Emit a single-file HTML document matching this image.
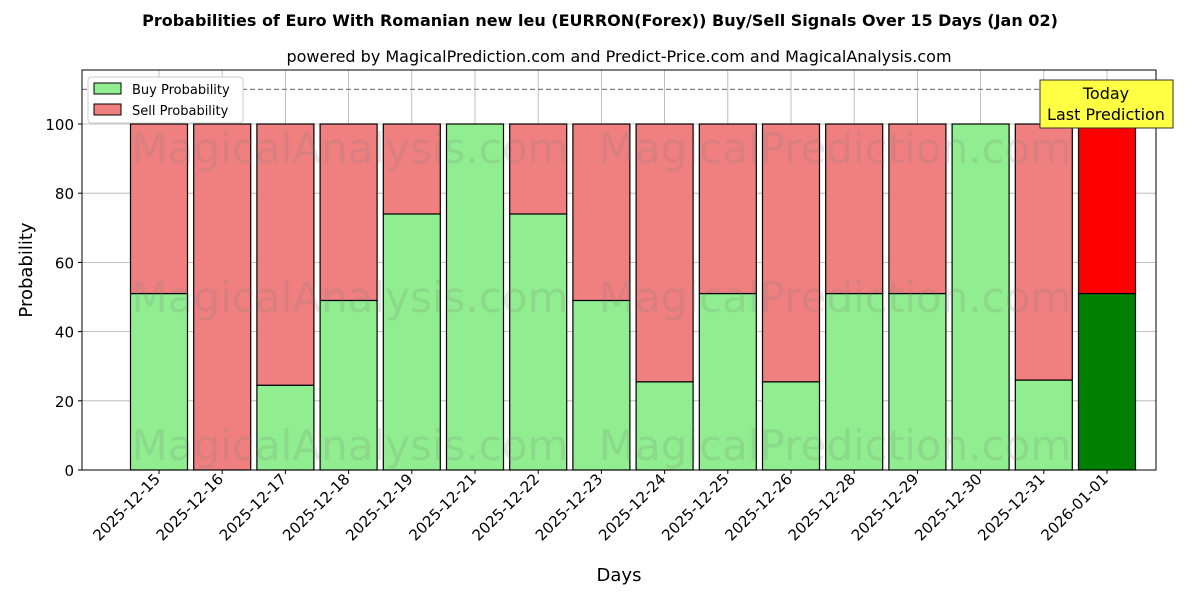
<!DOCTYPE html>
<html><head><meta charset="utf-8"><style>body{margin:0;background:#fff}svg{display:block;font-family:"DejaVu Sans","Liberation Sans",sans-serif}</style></head>
<body>
<svg id="c" width="1200" height="600">
<text x="600" y="26" text-anchor="middle" font-size="16" font-weight="bold">Probabilities of Euro With Romanian new leu (EURRON(Forex)) Buy/Sell Signals Over 15 Days (Jan 02)</text>
<text x="619" y="62" text-anchor="middle" font-size="16">powered by MagicalPrediction.com and Predict-Price.com and MagicalAnalysis.com</text>
<g id="plot"></g>
</svg>
<script>
const categories=["2025-12-15","2025-12-16","2025-12-17","2025-12-18","2025-12-19","2025-12-21","2025-12-22","2025-12-23","2025-12-24","2025-12-25","2025-12-26","2025-12-28","2025-12-29","2025-12-30","2025-12-31","2026-01-01"];
const buyValues=[51,0,24.5,49,74,100,74,49,25.5,51,25.5,51,51,100,26,51];
const yTicks=[0,20,40,60,80,100];
const NS="http://www.w3.org/2000/svg";
const L=82,R=1156,T=70,B=470;
const y=v=>B-v*3.46;
const x=i=>159+i*63.2;
const bw=57;
const g=document.getElementById('plot');
function mk(t,a,p){const e=document.createElementNS(NS,t);for(const k in a)e.setAttribute(k,a[k]);(p||g).appendChild(e);return e;}
yTicks.forEach(v=>{const l=mk('line',{x1:L,x2:R,y1:y(v),y2:y(v),stroke:'#b0b0b0','stroke-width':0.8});


const t=mk('text',{x:L-8,y:y(v)+6,'text-anchor':'end','font-size':15});t.textContent=v;


mk('line',{x1:L-4,x2:L,y1:y(v),y2:y(v),stroke:'#000'});});
categories.forEach((c,i)=>{const l=mk('line',{x1:x(i),x2:x(i),y1:T,y2:B,stroke:'#b0b0b0','stroke-width':0.8});

});
categories.forEach((c,i)=>{const b=buyValues[i],last=i===categories.length-1;
const r1=mk('rect',{x:x(i)-bw/2,y:y(b),width:bw,height:y(0)-y(b),fill:last?'#008000':'#90ee90',stroke:'#000','stroke-width':1.2});


const r2=mk('rect',{x:x(i)-bw/2,y:y(100),width:bw,height:y(b)-y(100),fill:last?'#ff0000':'#f08080',stroke:'#000','stroke-width':1.2});


mk('line',{x1:x(i),x2:x(i),y1:B,y2:B+4,stroke:'#000'});
const t=mk('text',{transform:`translate(${x(i)+2},${B+10}) rotate(-45)`,'text-anchor':'end','font-size':15});t.textContent=c;

});
[[163,350],[163,835],[312,350],[312,835],[460,350],[460,835]].forEach(([yy,xx])=>{const t=mk('text',{x:xx,y:yy,'text-anchor':'middle','font-size':42,fill:'rgba(120,120,120,0.18)'});t.textContent=xx<500?'MagicalAnalysis.com':'MagicalPrediction.com';

});
const d=mk('line',{x1:L,x2:R,y1:y(110),y2:y(110),stroke:'#808080','stroke-dasharray':'5,3','stroke-width':1.2});


mk('rect',{x:L,y:T,width:R-L,height:B-T,fill:'none',stroke:'#000','stroke-width':1});
const ann=mk('g',{});


mk('rect',{x:1040,y:80,width:133,height:48,fill:'#ffff44',stroke:'#333'},ann);
let a1=mk('text',{x:1106,y:99,'text-anchor':'middle','font-size':16},ann);a1.textContent='Today';
let a2=mk('text',{x:1106,y:120,'text-anchor':'middle','font-size':16},ann);a2.textContent='Last Prediction';
const lg=mk('g',{});


mk('rect',{x:88,y:77,width:155,height:46,fill:'#fff',stroke:'#ccc',rx:3},lg);
mk('rect',{x:94,y:83,width:27,height:11,fill:'#90ee90',stroke:'#000'},lg);
let l1=mk('text',{x:132,y:94,'font-size':13},lg);l1.textContent='Buy Probability';
mk('rect',{x:94,y:104,width:27,height:11,fill:'#f08080',stroke:'#000'},lg);
let l2=mk('text',{x:132,y:115,'font-size':13},lg);l2.textContent='Sell Probability';
let xt=mk('text',{x:619,y:581,'text-anchor':'middle','font-size':18});xt.textContent='Days';


let yt=mk('text',{transform:'translate(32,270) rotate(-90)','text-anchor':'middle','font-size':18});yt.textContent='Probability';


</script>
</body></html>
